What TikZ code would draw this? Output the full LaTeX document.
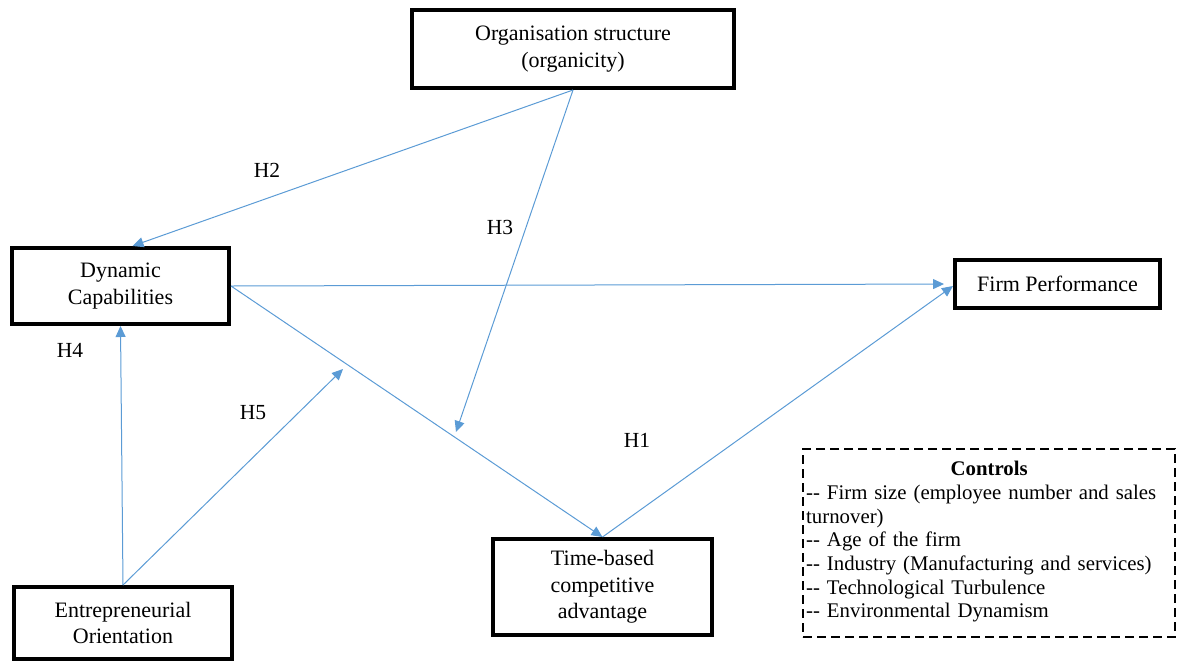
\documentclass[tikz,border=0pt]{standalone}
\usepackage{fontspec}
\setmainfont{Liberation Serif}
\newfontfamily\tnr{Liberation Serif}
\usetikzlibrary{arrows.meta}

\definecolor{linkblue}{RGB}{91,155,213}

\begin{document}
\begin{tikzpicture}[
  x=1pt,
  y=-1pt,
  box/.style={draw=black,fill=white,line width=4pt,align=center,inner sep=2pt,
    font=\tnr\fontsize{22}{26.5}\selectfont},
  ctrlbox/.style={draw=black,line width=1.1pt,dash pattern=on 9pt off 5pt},
  link/.style={-{Triangle[length=11pt,width=10pt]},draw=linkblue,line width=1pt},
  lab/.style={font=\tnr\fontsize{21.5}{24}\selectfont}
]
\useasboundingbox (0,0) rectangle (1182,662);
\node[box,minimum width=322,minimum height=78] (org) at (573,49) {Organisation structure\\(organicity)};
\node[box,minimum width=217,minimum height=76] (dc) at (120.5,286) {Dynamic\\Capabilities};
\node[box,minimum width=205,minimum height=48] (fp) at (1057.5,284) {Firm Performance};
\node[box,minimum width=219,minimum height=96] (tb) at (602.5,587) {Time-based\\competitive\\advantage};
\node[box,minimum width=218,minimum height=72] (eo) at (123,623) {Entrepreneurial\\Orientation};
\node[ctrlbox,minimum width=372,minimum height=188] (ctrl) at (989,543) {};
\node[font=\tnr\fontsize{20.8}{23.7}\selectfont,text width=366,inner sep=0pt,anchor=north west]
  (ctrltxt) at (806,461) {{\centering\textbf{Controls}\par}
  -{}- Firm size (employee number and sales\\
  turnover)\\
  -{}- Age of the firm\\
  -{}- Industry (Manufacturing and services)\\
  -{}- Technological Turbulence\\
  -{}- Environmental Dynamism};
% ends that meet a line
\coordinate (h3end) at (456,432);
\coordinate (h5end) at (343,369);
\draw[link] (org.south) -- ([xshift=12pt]dc.north);
\draw[link] (org.south) -- (h3end);
\draw[link,shorten >=9pt] (dc.east) -- (fp.west);
\draw[link] (dc.east) -- (tb.north);
\draw[link] (eo.north) -- (dc.south);
\draw[link] (eo.north) -- (h5end);
\draw[link] (tb.north) -- ([yshift=-2pt]fp.west);
\node[lab] (h1) at (637,440) {H1};
\node[lab] (h2) at (267,170) {H2};
\node[lab] (h3) at (500,227) {H3};
\node[lab] (h4) at (70,350) {H4};
\node[lab] (h5) at (253,413) {H5};
\end{tikzpicture}
\end{document}
